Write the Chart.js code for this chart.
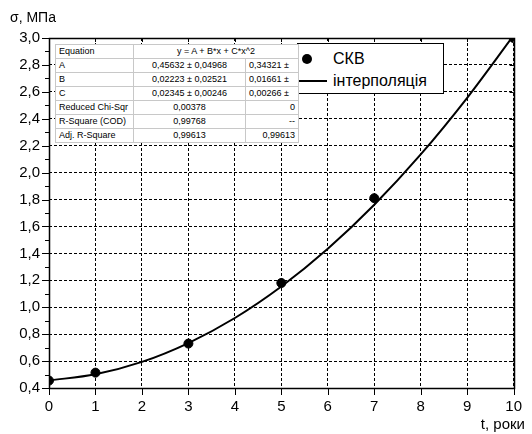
<!DOCTYPE html>
<html>
<head>
<meta charset="utf-8">
<script src="https://cdn.jsdelivr.net/npm/chart.js@4/dist/chart.umd.min.js"></script>
<style>
  html, body { margin: 0; padding: 0; background: #fff; }
  #wrap { position: relative; width: 532px; height: 434px; font-family: "Liberation Sans", Arial, sans-serif; overflow: hidden; }
  canvas { position: absolute; left: 0; top: 0; }
  .lbl { position: absolute; color: #000; white-space: nowrap; line-height: 1; }
  #fitTable { position: absolute; left: 55px; top: 44px; width: 243px; border-collapse: collapse; table-layout: fixed;
              background: #fff; font-size: 9px; border: 1px solid #333; }
  #fitTable td { border: 1px solid #c8c8c8; height: 13px; padding: 0 3px; overflow: hidden; white-space: nowrap; line-height: 13px; }
  #fitTable td.c { text-align: center; }
  #fitTable td.r { text-align: right; }
  #legend { position: absolute; left: 297px; top: 43px; width: 145px; height: 49px; border: 1px solid #000; background: #fff; }
  #legend .dot { position: absolute; left: 4px; top: 10px; width: 10px; height: 10px; border-radius: 50%; background: #000; }
  #legend .ln { position: absolute; left: 0; top: 36px; width: 29px; height: 2px; background: #000; }
  #legend .t { position: absolute; font-size: 16px; line-height: 1; color: #000; }
</style>
</head>
<body>
<div id="wrap">
  <canvas id="c" width="532" height="434"></canvas>
  <div class="lbl" style="left:10px; top:10px; font-size:14px;">σ, МПа</div>
  <div class="lbl" style="right:7px; top:416px; font-size:15px;">t, роки</div>
  <div id="legend">
    <div class="dot"></div><div class="t" style="left:35px; top:7px;">СКВ</div>
    <div class="ln"></div><div class="t" style="left:35px; top:29px;">інтерполяція</div>
  </div>
  <table id="fitTable">
    <colgroup><col style="width:78px"><col style="width:112px"><col style="width:53px"></colgroup>
    <tbody id="tb"></tbody>
  </table>
</div>
<script>
// ---- data ----
const tYears = [0, 1, 3, 5, 7, 10];
const skvValues = [0.455, 0.514, 0.73, 1.18, 1.81, 3.0];
const interpT = [0, 1, 2, 3, 4, 5, 6, 7, 8, 9, 10];
const interpValues = [0.456, 0.502, 0.594, 0.734, 0.920, 1.154, 1.434, 1.761, 2.135, 2.556, 3.02];
const xTickLabels = ['0','1','2','3','4','5','6','7','8','9','10'];
const yTickLabels = ['0,4','0,6','0,8','1,0','1,2','1,4','1,6','1,8','2,0','2,2','2,4','2,6','2,8','3,0'];
const seriesNames = ['СКВ', 'інтерполяція'];
const tableRows = [
  ['Equation', 'y = A + B*x + C*x^2', null],
  ['A', '0,45632 ± 0,04968', '0,34321 ±'],
  ['B', '0,02223 ± 0,02521', '0,01661 ±'],
  ['C', '0,02345 ± 0,00246', '0,00266 ±'],
  ['Reduced Chi-Sqr', '0,00378', '0'],
  ['R-Square (COD)', '0,99768', '--'],
  ['Adj. R-Square', '0,99613', '0,99613']
];

// ---- table ----
const tb = document.getElementById('tb');
tableRows.forEach((r, i) => {
  const tr = document.createElement('tr');
  const a = document.createElement('td'); a.textContent = r[0]; tr.appendChild(a);
  const b = document.createElement('td'); b.textContent = r[1]; b.className = 'c';
  if (r[2] === null) { b.colSpan = 2; tr.appendChild(b); }
  else {
    tr.appendChild(b);
    const c = document.createElement('td'); c.textContent = r[2];
    c.className = (i >= 1 && i <= 3) ? '' : 'r';
    tr.appendChild(c);
  }
  tb.appendChild(tr);
});

const FONT = "'Liberation Sans', Arial, sans-serif";

// frame + tick marks drawn through the scales
const framePlugin = {
  id: 'frame',
  afterDraw(chart) {
    const { ctx, chartArea: a, scales: { x, y } } = chart;
    ctx.save();
    ctx.strokeStyle = '#000';
    ctx.lineWidth = 1;
    ctx.beginPath();
    for (let v = 0; v <= 10; v++) {
      const px = Math.round(x.getPixelForValue(v)) + 0.5;
      ctx.moveTo(px, a.bottom); ctx.lineTo(px, a.bottom + 7);
      ctx.moveTo(px, a.top); ctx.lineTo(px, a.top + 4);
    }
    for (let k = 4; k <= 30; k++) {
      const py = Math.round(y.getPixelForValue(k / 10)) + 0.5;
      const major = k % 2 === 0;
      ctx.moveTo(a.left, py); ctx.lineTo(a.left - (major ? 7 : 4), py);
      if (major) { ctx.moveTo(a.right, py); ctx.lineTo(a.right - 4, py); }
    }
    ctx.stroke();
    ctx.lineWidth = 1.5;
    ctx.strokeRect(Math.round(a.left) + 0.5, Math.round(a.top) + 0.5, Math.round(a.right - a.left), Math.round(a.bottom - a.top));
    ctx.restore();
  }
};

new Chart(document.getElementById('c'), {
  type: 'line',
  data: {
    datasets: [
      {
        label: seriesNames[0],
        data: tYears.map((t, i) => ({ x: t, y: skvValues[i] })),
        showLine: false,
        pointRadius: 4.5,
        pointBackgroundColor: '#000',
        pointBorderColor: '#000',
        borderColor: '#000',
        backgroundColor: '#000',
        clip: 0,
        order: 0
      },
      {
        label: seriesNames[1],
        data: interpT.map((t, i) => ({ x: t, y: interpValues[i] })),
        borderColor: '#000',
        borderWidth: 2,
        pointRadius: 0,
        cubicInterpolationMode: 'monotone',
        fill: false,
        clip: 0,
        order: 1
      }
    ]
  },
  options: {
    responsive: false,
    animation: false,
    layout: { padding: { top: 38, right: 10, left: 0, bottom: 0 } },
    plugins: { legend: { display: false }, tooltip: { enabled: false }, title: { display: false } },
    scales: {
      x: {
        type: 'linear', min: 0, max: 10,
        afterFit(s) { s.height = 46; },
        afterBuildTicks(s) { s.ticks = xTickLabels.map((l, i) => ({ value: i })); },
        ticks: { font: { family: FONT, size: 15 }, color: '#000', padding: 10, maxRotation: 0,
                 callback: (v) => xTickLabels[v] },
        grid: { color: '#000', lineWidth: 1, drawTicks: false },
        border: { display: false, dash: [3, 2] }
      },
      y: {
        type: 'linear', min: 0.4, max: 3.0,
        afterFit(s) { s.width = 49; },
        afterBuildTicks(s) { s.ticks = yTickLabels.map((l, i) => ({ value: 0.4 + i * 0.2 })); },
        ticks: { font: { family: FONT, size: 15 }, color: '#000', padding: 9,
                 callback: (v, i) => yTickLabels[i] },
        grid: { color: '#000', lineWidth: 1, drawTicks: false },
        border: { display: false, dash: [3, 2] }
      }
    }
  },
  plugins: [framePlugin]
});
</script>
</body>
</html>
